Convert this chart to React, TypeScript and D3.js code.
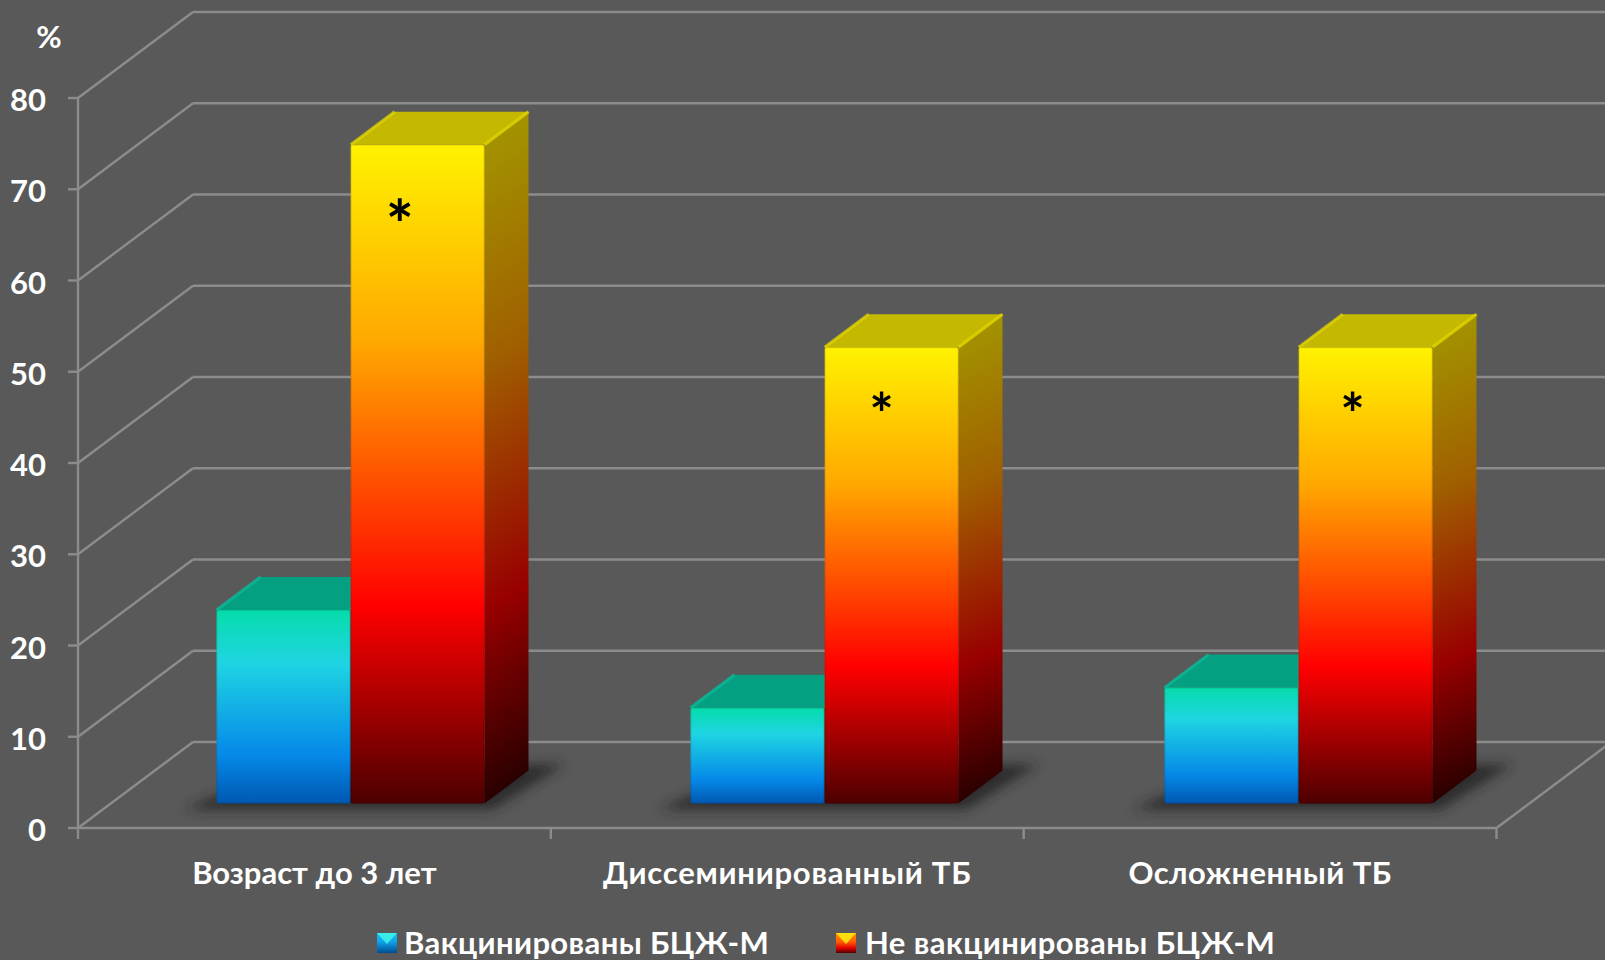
import * as d3 from 'd3';

const categories = ['Возраст до 3 лет', 'Диссеминированный ТБ', 'Осложненный ТБ'];
const vaccinated = [21.2, 10.5, 12.7];
const notVaccinated = [72.2, 50, 50];
const yTicks = [0, 10, 20, 30, 40, 50, 60, 70, 80];
const seriesNames = ['Вакцинированы БЦЖ-М', 'Не вакцинированы БЦЖ-М'];
const marks = ['*', '*', '*'];

const W = 1605;
const H = 960;
const FONT = 'Lato, "Open Sans", sans-serif';
const GRID = '#8c8c8c';

const x0 = 78;
const x1 = 1496.5;
const depthX = 115;
const depthY = 86;
// bars stand a little way into the floor
const barDy = 24.5;
const sideDx = 44;
const sideDy = 33;

const y = d3.scaleLinear().domain([0, 80]).range([828, 98]);
const xBand = d3.scaleBand<string>().domain(categories).range([x0, x1]);
// the bar groups step very slightly wider than the axis bands
const xGroup = d3.scaleBand<string>().domain(categories).range([x0, x0 + 1422]);
const xInner = d3.scaleBand<string>().domain(['a', 'b']).range([138.5, 406.5]).paddingInner(0.003);

// Lato runs a bit narrower than the original font on the long labels
const labelSpacing = [0, 0.75, 0.45];
const markDx = [49, 57, 54];
const markDy = [104, 88, 88];
const markSize = [66, 58, 58];

const line = d3.line<[number, number]>();
const poly = (pts: [number, number][]) => line(pts) + 'Z';

const stops = (id: string, cols: [number, string][], x2 = 0) => (
  <linearGradient id={id} x1="0" y1="0" x2={x2} y2="1" key={id}>
    {cols.map(([o, c]) => (
      <stop key={o} offset={o} stopColor={c} />
    ))}
  </linearGradient>
);

function Bar({ cat, value, kind }: { cat: string; value: number; kind: 'a' | 'b' }) {
  const left = xGroup(cat)! + xInner(kind)!;
  const w = xInner.bandwidth();
  const base = y(0) - barDy;
  const top = y(value) - barDy;
  const right = left + w;
  const topFill = kind === 'a' ? '#04a081' : '#c4b800';
  const edge = kind === 'a' ? '#06c09c' : '#e6da00';
  return (
    <g>
      <path
        d={poly([[right, top], [right + sideDx, top - sideDy], [right + sideDx, base - sideDy], [right, base]])}
        fill={`url(#side-${kind})`}
      />
      <path
        d={poly([[left, top], [left + sideDx, top - sideDy], [right + sideDx, top - sideDy], [right, top]])}
        fill={topFill}
      />
      <path
        d={`M${left},${top}L${left + sideDx},${top - sideDy}M${right},${top}L${right + sideDx},${top - sideDy}`}
        stroke={edge}
        strokeWidth={3}
        opacity={0.75}
      />
      <rect x={left} y={top} width={w} height={base - top} rx={2} fill={`url(#front-${kind})`} />
      <rect x={left + 0.5} y={top + 0.5} width={w - 1} height={base - top - 1} rx={2} fill="none" stroke="#000" strokeOpacity={0.1} />
    </g>
  );
}

function Swatch({ x, py, kind }: { x: number; py: number; kind: 'a' | 'b' }) {
  const s = 20;
  return (
    <g>
      <rect x={x} y={py} width={s} height={s} fill={`url(#swatch-${kind})`} />
      <path
        d={poly([[x, py], [x + s, py], [x + s / 2, py + s * 0.55]])}
        fill={kind === 'a' ? '#3ff5ea' : '#ffec10'}
        opacity={0.85}
      />
    </g>
  );
}

export default function App() {
  const base = y(0) - barDy;
  return (
    <svg
      width={W}
      height={H}
      viewBox={`0 0 ${W} ${H}`}
      style={{ position: 'fixed', left: 0, top: 0, background: '#595959', fontFamily: FONT }}
    >
      <defs>
        {stops('front-a', [[0, '#05dcaa'], [0.27, '#1fd5e2'], [0.75, '#0589e8'], [1, '#0058b0']])}
        {stops('front-b', [[0, '#fff200'], [0.3, '#ffa800'], [0.7, '#ff0000'], [1, '#4c0000']])}
        {stops('side-a', [[0, '#028a70'], [1, '#003a70']], 0.04)}
        {stops('side-b', [[0, '#a39a00'], [0.36, '#a06000'], [0.72, '#980000'], [1, '#280000']], 0.04)}
        {stops('swatch-a', [[0, '#1cc0e8'], [0.45, '#10a0e8'], [1, '#004c90']])}
        {stops('swatch-b', [[0, '#ff9000'], [0.45, '#ff5a00'], [0.75, '#e00000'], [1, '#500000']])}
        <filter id="blur" x="-20%" y="-100%" width="140%" height="300%">
          <feGaussianBlur stdDeviation="6" />
        </filter>
      </defs>

      {/* walls */}
      <g stroke={GRID} strokeWidth={2.4} fill="none">
        {yTicks.map((t) => (
          <g key={t}>
            <path d={`M${x0 + depthX},${y(t) - depthY}H${W + 20}`} />
            <path d={`M${x0},${y(t)}L${x0 + depthX},${y(t) - depthY}`} />
            <path d={`M${x0 - 10},${y(t)}H${x0}`} />
          </g>
        ))}
        <path d={`M${x0},${y(0)}V${y(80)}`} />
        <path d={`M${x0},${y(0)}H${x1}L${x1 + depthX},${y(0) - depthY}`} />
        {[...categories.map((c) => xBand(c)!), x1].map((v) => (
          <path key={v} d={`M${v},${y(0)}V${y(0) + 11}`} />
        ))}
      </g>

      {/* shadows on the floor */}
      {categories.map((c) => {
        const l = xGroup(c)! + xInner('a')!;
        const r = xGroup(c)! + xInner('b')! + xInner.bandwidth();
        return (
          <path
            key={c}
            d={poly([[l - 32, base + 6], [r + 8, base + 6], [r + sideDx + 36, base - sideDy - 6], [r, base - sideDy - 6], [l, base - 8]])}
            fill="#222"
            opacity={0.8}
            filter="url(#blur)"
          />
        );
      })}

      {/* bars */}
      {categories.map((c, i) => (
        <g key={c}>
          <Bar cat={c} value={vaccinated[i]} kind="a" />
          <Bar cat={c} value={notVaccinated[i]} kind="b" />
        </g>
      ))}

      {/* significance marks */}
      {categories.map((c, i) => (
        <text
          key={c}
          x={xGroup(c)! + xInner('b')! + markDx[i]}
          y={y(notVaccinated[i]) - barDy + markDy[i]}
          fontSize={markSize[i]}
          fontWeight={700}
          textAnchor="middle"
          fill="#000"
        >
          {marks[i]}
        </text>
      ))}

      {/* axis labels */}
      <g fill="#fff" fontWeight={700} fontSize={31}>
        {yTicks.map((t) => (
          <text key={t} x={46} y={y(t) + 13} textAnchor="end">
            {t}
          </text>
        ))}
        <text x={49} y={48} textAnchor="middle">%</text>
        {categories.map((c, i) => (
          <text
            key={c}
            x={xBand(c)! + xBand.bandwidth() / 2}
            y={884}
            textAnchor="middle"
            letterSpacing={labelSpacing[i]}
          >
            {c}
          </text>
        ))}
      </g>

      {/* legend */}
      <g fill="#fff" fontWeight={700} fontSize={31}>
        <Swatch x={377} py={933} kind="a" />
        <text x={404} y={954} letterSpacing={0.38}>{seriesNames[0]}</text>
        <Swatch x={836} py={933} kind="b" />
        <text x={865} y={954} letterSpacing={0.42}>{seriesNames[1]}</text>
      </g>
    </svg>
  );
}
